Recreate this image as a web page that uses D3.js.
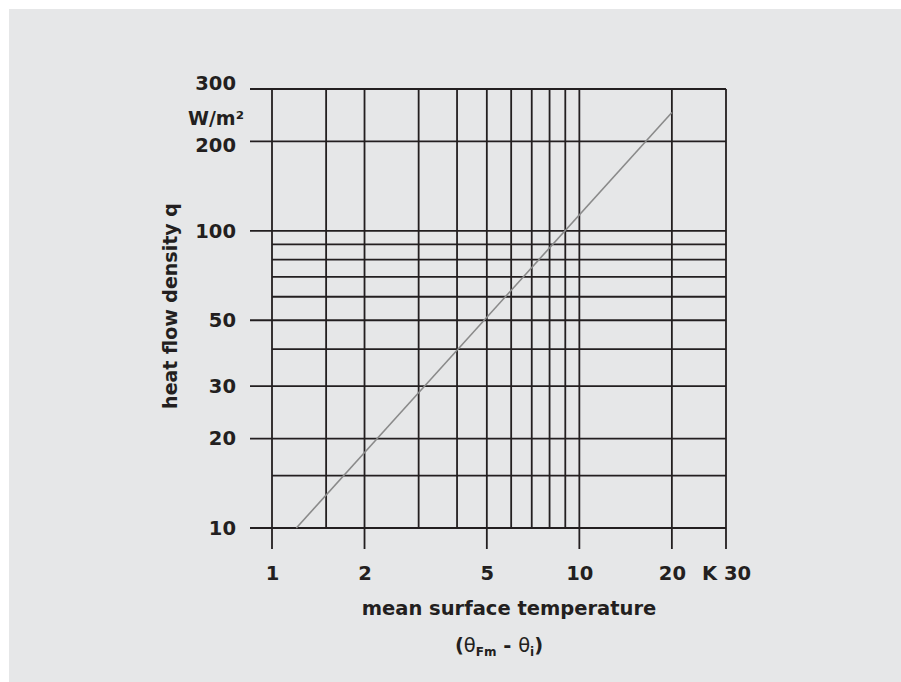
<!DOCTYPE html>
<html>
<head>
<meta charset="utf-8">
<script src="https://cdn.jsdelivr.net/npm/d3@7"></script>
<style>
  html, body { margin: 0; padding: 0; background: #ffffff; }
  svg { display: block; }
  text { font-family: "DejaVu Sans", sans-serif; fill: #231f20; }
</style>
</head>
<body>
<svg id="chart" width="901" height="682"></svg>
<script>
// ---- data ----
const xGrid = [1, 1.5, 2, 3, 4, 5, 6, 7, 8, 9, 10, 20, 30];
const xMajor = [1, 2, 5, 10, 20, 30];
const xTickLabels = ["1", "2", "5", "10", "20", "K 30"];
const yGrid = [10, 15, 20, 30, 40, 50, 60, 70, 80, 90, 100, 200, 300];
const yMajor = [10, 20, 30, 50, 100, 200, 300];
const yTickLabels = ["10", "20", "30", "50", "100", "200", "300"];
const lineX = [1.2, 20];
const lineY = [10, 250];

// ---- layout ----
const svg = d3.select("#chart");
const ink = "#231f20";
const gridW = 1.8;

svg.append("rect").attr("x", 9).attr("y", 9).attr("width", 892).attr("height", 673).attr("fill", "#e6e7e8");

const x = d3.scaleLog().domain([1, 30]).range([272, 726]);
const y = d3.scaleLog().domain([10, 300]).range([528, 89]);

const majorTick = 21;
const g = svg.append("g");

// horizontal grid lines
g.selectAll("line.h").data(yGrid).join("line")
  .attr("class", "h")
  .attr("x1", d => yMajor.includes(d) ? x(1) - 22 : x(1))
  .attr("x2", x(30))
  .attr("y1", d => y(d)).attr("y2", d => y(d))
  .attr("stroke", ink).attr("stroke-width", gridW);

// vertical grid lines
g.selectAll("line.v").data(xGrid).join("line")
  .attr("class", "v")
  .attr("x1", d => x(d)).attr("x2", d => x(d))
  .attr("y1", y(300))
  .attr("y2", d => xMajor.includes(d) ? y(10) + majorTick : y(10))
  .attr("stroke", ink).attr("stroke-width", gridW);

// x axis labels
const xAxis = d3.axisBottom(x).tickValues(xMajor)
  .tickFormat((d, i) => xTickLabels[i]).tickSize(majorTick).tickPadding(17);
const gx = svg.append("g").attr("transform", `translate(0,${y(10)})`).call(xAxis);
gx.select(".domain").remove();
gx.selectAll(".tick line").remove();
gx.selectAll(".tick text").attr("font-family", "DejaVu Sans").attr("font-weight", "bold")
  .attr("font-size", 19.5).attr("fill", ink);

// y axis labels
const yAxis = d3.axisLeft(y).tickValues(yMajor)
  .tickFormat((d, i) => yTickLabels[i]).tickSize(22).tickPadding(14);
const gy = svg.append("g").attr("transform", `translate(${x(1)},0)`).call(yAxis);
gy.select(".domain").remove();
gy.selectAll(".tick line").remove();
gy.selectAll(".tick text").attr("font-family", "DejaVu Sans").attr("font-weight", "bold")
  .attr("font-size", 19.5).attr("fill", ink)
  .attr("transform", d => d === 300 ? "translate(0,-6)" : d === 200 ? "translate(0,4)" : null);

// unit label
svg.append("text").attr("x", 244).attr("y", 125).attr("text-anchor", "end")
  .attr("font-weight", "bold").attr("font-size", 19)
  .text("W/m²");

// the characteristic line
const line = d3.line().x(d => x(d[0])).y(d => y(d[1]));
svg.append("path").datum(lineX.map((v, i) => [v, lineY[i]]))
  .attr("d", line).attr("fill", "none").attr("stroke", "#8a8a8a").attr("stroke-width", 1.6);

// axis titles
svg.append("text").attr("transform", "translate(177,306) rotate(-90)")
  .attr("text-anchor", "middle").attr("font-weight", "bold").attr("font-size", 19)
  .text("heat flow density q");

svg.append("text").attr("x", 509).attr("y", 615).attr("text-anchor", "middle")
  .attr("font-weight", "bold").attr("font-size", 19.5)
  .text("mean surface temperature");

const sub = svg.append("text").attr("x", 499).attr("y", 652).attr("text-anchor", "middle")
  .attr("font-size", 19.5);
sub.append("tspan").attr("font-weight", "bold").text("(");
sub.append("tspan").attr("font-family", "DejaVu Sans").attr("font-weight", "normal").text("θ");
sub.append("tspan").attr("font-weight", "bold").attr("font-size", 12).attr("dy", 4).text("Fm");
sub.append("tspan").attr("font-weight", "bold").attr("dy", -4).text("  -  ");
sub.append("tspan").attr("font-family", "DejaVu Sans").attr("font-weight", "normal").text("θ");
sub.append("tspan").attr("font-weight", "bold").attr("font-size", 12).attr("dy", 4).text("i");
sub.append("tspan").attr("font-weight", "bold").attr("dy", -4).text(")");
</script>
</body>
</html>
